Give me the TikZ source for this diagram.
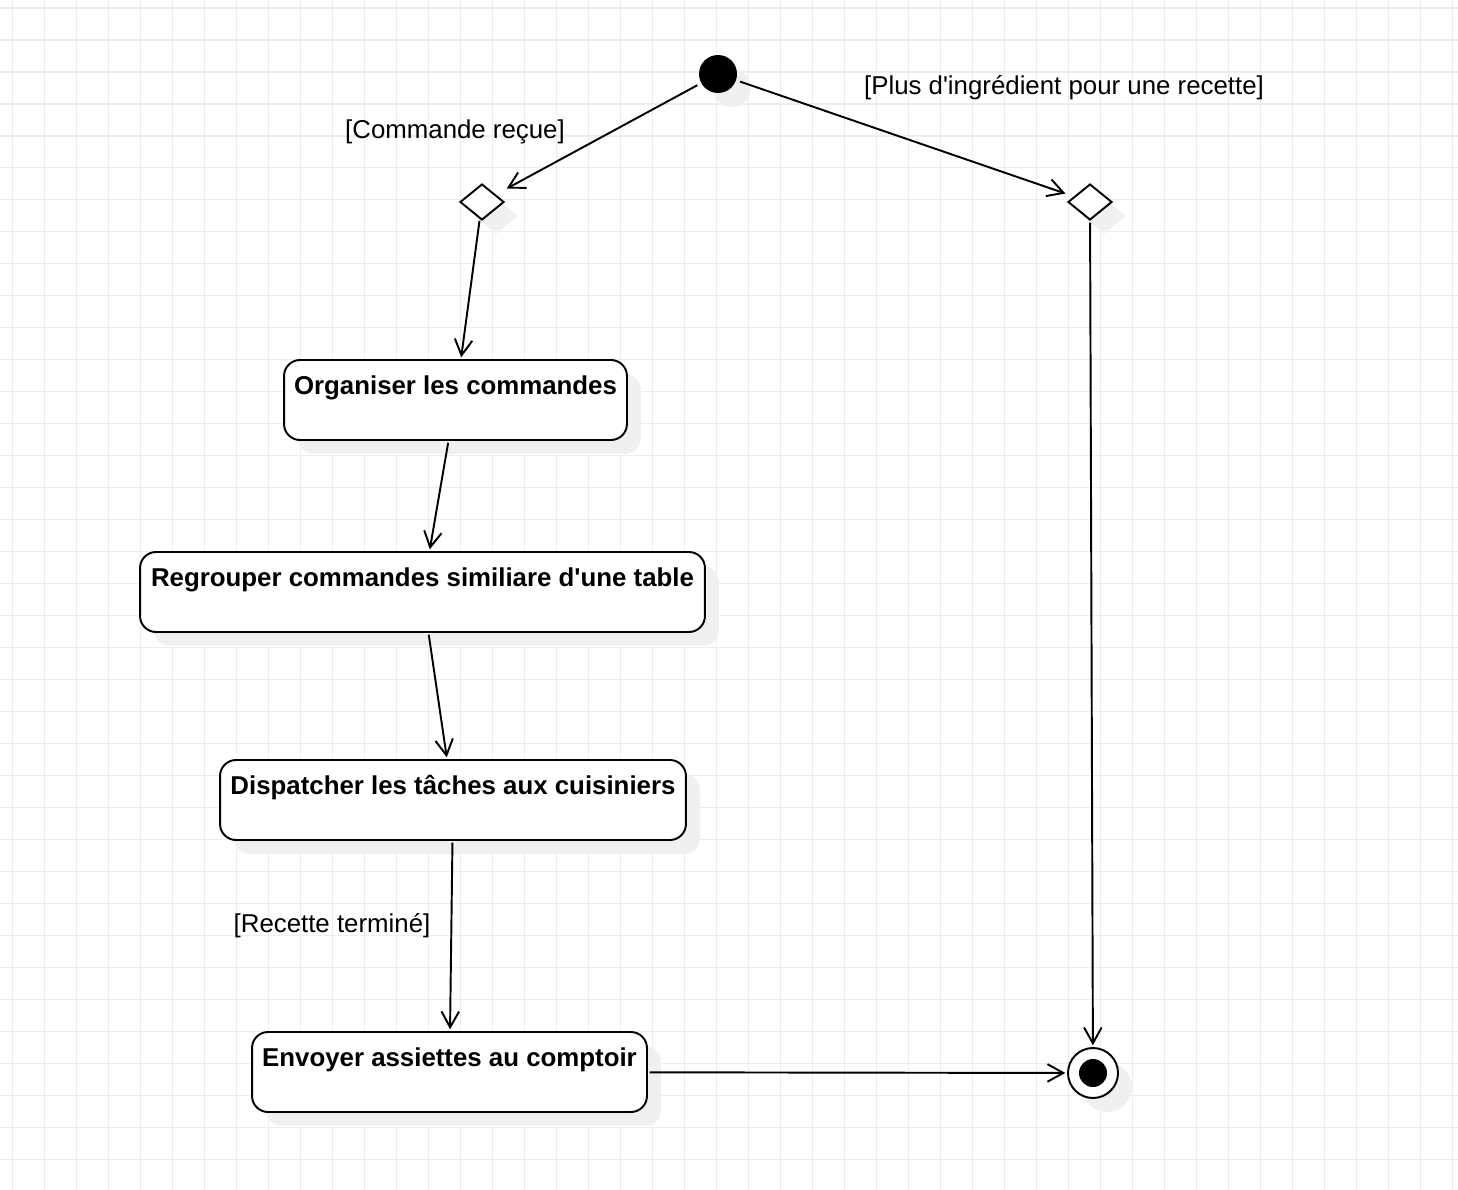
\documentclass[tikz,border=0pt]{standalone}
\usepackage{fontspec}
\setmainfont{Liberation Sans}
\usetikzlibrary{arrows.meta,shapes.geometric,shadows}

\newcommand{\diagfont}{\fontsize{14.7}{17}\selectfont}

\tikzset{
  shade/.style={drop shadow={shadow xshift=0.28cm, shadow yshift=-0.28cm, fill=black!6, opacity=1}},
  action/.style={draw, fill=white, rounded corners=0.32cm, minimum height=1.6cm, inner ysep=0pt,
    text height=19.5pt, text depth=25.8pt, font=\diagfont\bfseries, shade},
  decision/.style={draw, diamond, fill=white, minimum width=0.88cm, minimum height=0.72cm, inner sep=0pt, shade},
  start/.style={circle, fill=black, minimum size=0.76cm, inner sep=0pt, shade},
  stop/.style={draw, circle, fill=white, minimum size=1cm, inner sep=0pt, shade},
  guard/.style={inner sep=0pt, font=\diagfont},
  flow/.style={-{Straight Barb[length=9pt,width=10pt]}, shorten <=1pt, shorten >=1pt}
}

\begin{document}
\begin{tikzpicture}[x=0.02cm, y=-0.02cm, line width=1.1pt]
\useasboundingbox (0,0) rectangle (1458,1190);
\fill[white] (0,0) rectangle (1458,1190);
\draw[black!7, line width=0.6pt, xshift=0.25cm, yshift=-0.16cm] (-12.5,-8) grid[step=0.64cm] (1458,1190);

% start and decisions
\node[start] (init) at (718,74) {};
\node[decision] (dec1) at (482,202) {};
\node[decision] (dec2) at (1090,202) {};

% actions
\foreach \k/\x/\y/\w/\t in {1/455.5/400/6.86/Organiser les commandes,
    2/422.5/592/11.3/Regrouper commandes similiare d\textquotesingle une table,
    3/453/800/9.32/Dispatcher les tâches aux cuisiniers,
    4/449.5/1072/7.9/Envoyer assiettes au comptoir}
    \node[action, minimum width=\w cm] (a\k) at (\x,\y) {\t};

\node[stop] (final) at (1093,1073) {};
\fill (final.center) circle (0.28cm);

% guards
\node[guard] at (455,132) {[Commande reçue]};
\node[guard] at (1064,88) {[Plus d\textquotesingle ingrédient pour une recette]};
\node[guard] at (332,926) {[Recette terminé]};

% transitions
\draw[flow, shorten <=2pt, shorten >=7pt] (init) -- (dec1);
\draw[flow, shorten <=2pt, shorten >=5pt] (init) -- (dec2);
\foreach \i/\j in {dec1/a1, a1/a2, a2/a3, a3/a4, a4/final, dec2/final}
    \draw[flow] (\i) -- (\j);
\end{tikzpicture}
\end{document}
